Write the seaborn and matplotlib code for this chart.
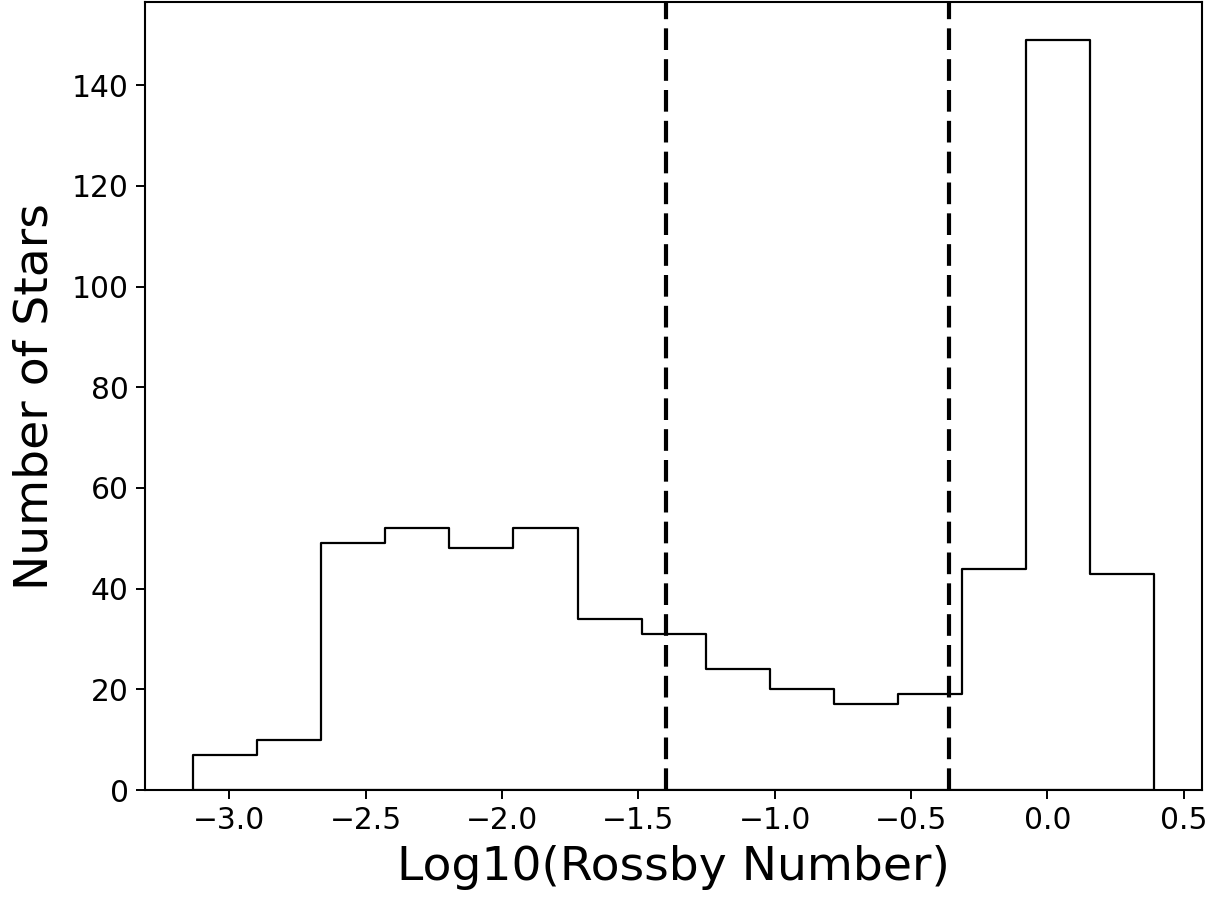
import numpy as np
import pandas as pd
import matplotlib
matplotlib.use("Agg")
import matplotlib.pyplot as plt
import seaborn as sns

# Histogram of log10 Rossby numbers: bin layout and star counts per bin
bin_start = -3.133
bin_width = 0.235
star_counts = [7, 10, 49, 52, 48, 52, 34, 31, 24, 20, 17, 19, 44, 149, 43]

# Regime boundaries (log10 Rossby number)
regime_bounds = [-1.40, -0.36]

x_ticks = [-3.0, -2.5, -2.0, -1.5, -1.0, -0.5, 0.0, 0.5]
y_ticks = [0, 20, 40, 60, 80, 100, 120, 140]

n_bins = len(star_counts)
edges = bin_start + bin_width * np.arange(n_bins + 1)
centers = 0.5 * (edges[:-1] + edges[1:])
df = pd.DataFrame({"log_ro": centers, "count": star_counts})

sns.set_style("white")
plt.rcParams["font.family"] = ["DejaVu Sans"]
plt.rcParams["text.color"] = "black"
plt.rcParams["axes.labelcolor"] = "black"

fig = plt.figure(figsize=(12.14, 8.99), dpi=100)
ax = fig.add_axes([0.1194, 0.1212, 0.8710, 0.8762])

sns.histplot(data=df, x="log_ro", weights="count", bins=edges.tolist(),
             element="step", fill=True, color="black", facecolor="none",
             edgecolor="black", linewidth=1.6, ax=ax)

for xb in regime_bounds:
    ax.axvline(xb, color="black", linewidth=3.0, linestyle=(0, (5.2, 2.2)))

ax.set_xticks(x_ticks)
ax.set_yticks(y_ticks)
ax.set_xticklabels([f"{t:.1f}".replace("-", "\u2212") for t in x_ticks])
ax.set_yticklabels([str(t) for t in y_ticks])

ax.tick_params(axis="both", which="major", direction="out", length=6.3,
               width=1.4, pad=5.4, labelsize=21.4, color="black",
               labelcolor="black", bottom=True, left=True)

for sp in ax.spines.values():
    sp.set_visible(True)
    sp.set_color("black")
    sp.set_linewidth(1.5)

ax.set_xlabel("Log10(Rossby Number)", fontsize=34, labelpad=7, color="black")
ax.set_ylabel("Number of Stars", fontsize=34, labelpad=10, color="black")

fig.savefig("out.png", dpi=100, facecolor="white")
